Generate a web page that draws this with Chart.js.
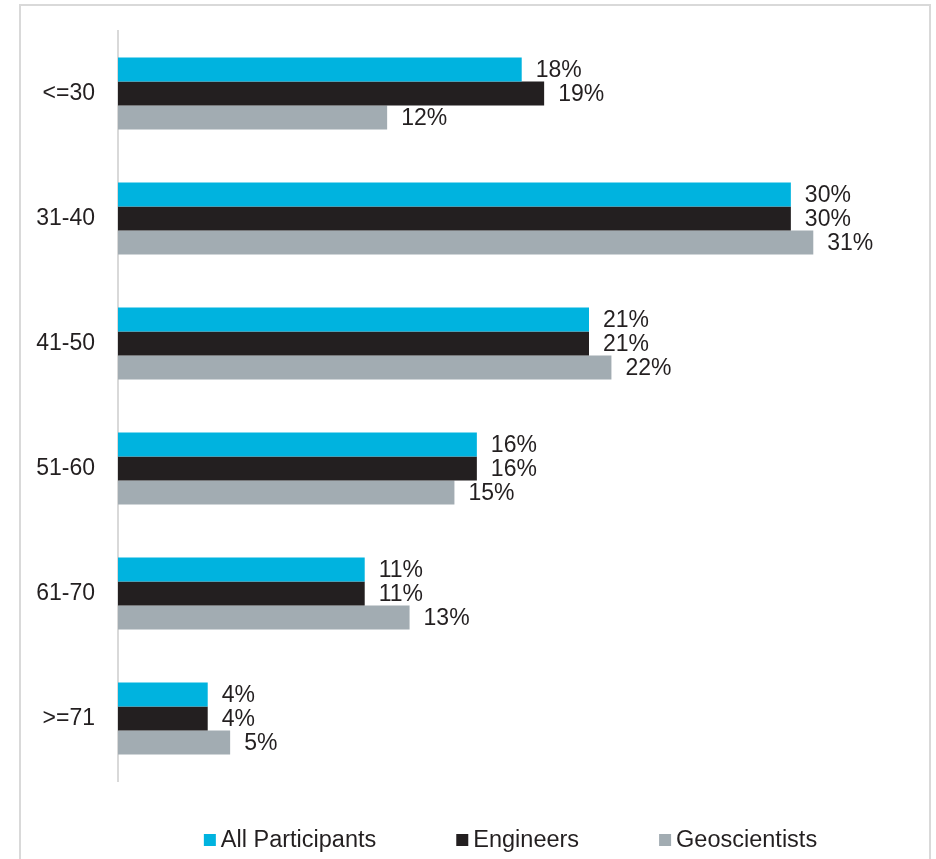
<!DOCTYPE html>
<html>
<head>
<meta charset="utf-8">
<script src="https://cdn.jsdelivr.net/npm/chart.js@4/dist/chart.umd.min.js"></script>
<style>
  html, body { margin: 0; padding: 0; background: #ffffff; }
  #wrap { width: 936px; height: 859px; position: relative; }
</style>
</head>
<body>
<div id="wrap"><canvas id="c" width="936" height="859"></canvas></div>
<script>
const categories = ["<=30", "31-40", "41-50", "51-60", "61-70", ">=71"];
const allParticipants = [18, 30, 21, 16, 11, 4];
const engineers = [19, 30, 21, 16, 11, 4];
const geoscientists = [12, 31, 22, 15, 13, 5];
const seriesNames = ["All Participants", "Engineers", "Geoscientists"];
const seriesColors = ["#00B3DF", "#231F20", "#A2ACB2"];

const FONT = "'Liberation Sans', Arial, sans-serif";

const frame = {
  id: 'frame',
  beforeDraw(chart) {
    const ctx = chart.ctx;
    ctx.save();
    ctx.strokeStyle = '#d9d9d9';
    ctx.lineWidth = 2;
    ctx.strokeRect(20, 5, 910, 900);
    ctx.restore();
  }
};

const valueLabels = {
  id: 'valueLabels',
  afterDatasetsDraw(chart) {
    const ctx = chart.ctx;
    ctx.save();
    ctx.font = "23px " + FONT;
    ctx.fillStyle = '#231F20';
    ctx.textBaseline = 'middle';
    ctx.textAlign = 'left';
    chart.data.datasets.forEach((ds, i) => {
      const meta = chart.getDatasetMeta(i);
      meta.data.forEach((bar, j) => {
        ctx.fillText(ds.data[j] + '%', bar.x + 14, bar.y + 1);
      });
    });
    ctx.restore();
  }
};

const customLegend = {
  id: 'customLegend',
  afterDraw(chart) {
    const ctx = chart.ctx;
    const area = chart.chartArea;
    ctx.save();
    ctx.font = "23.5px " + FONT;
    ctx.textBaseline = 'middle';
    ctx.textAlign = 'left';
    const box = 12, gapText = 5, gapItem = 80;
    const widths = chart.data.datasets.map(ds => box + gapText + ctx.measureText(ds.label).width);
    const total = widths.reduce((a, b) => a + b, 0) + gapItem * (widths.length - 1);
    let x = (area.left + area.right) / 2 - total / 2;
    const y = 840;
    chart.data.datasets.forEach((ds, i) => {
      ctx.fillStyle = ds.backgroundColor;
      ctx.fillRect(x, y - 6, box, box);
      ctx.fillStyle = '#231F20';
      ctx.fillText(ds.label, x + box + gapText, y + 1);
      x += widths[i] + gapItem;
    });
    ctx.restore();
  }
};

new Chart(document.getElementById('c'), {
  type: 'bar',
  data: {
    labels: categories,
    datasets: [
      { label: seriesNames[0], data: allParticipants, backgroundColor: seriesColors[0] },
      { label: seriesNames[1], data: engineers, backgroundColor: seriesColors[1] },
      { label: seriesNames[2], data: geoscientists, backgroundColor: seriesColors[2] }
    ]
  },
  options: {
    indexAxis: 'y',
    responsive: false,
    animation: false,
    devicePixelRatio: 1,
    layout: { padding: { left: 20, right: 33, top: 31, bottom: 78 } },
    datasets: { bar: { categoryPercentage: 0.576, barPercentage: 1.0, borderWidth: 0 } },
    plugins: {
      legend: { display: false },
      tooltip: { enabled: false },
      title: { display: false }
    },
    scales: {
      x: {
        display: false,
        min: 0,
        max: 35
      },
      y: {
        afterFit(s) { s.width = 98; s.paddingTop = 0; s.paddingBottom = 0; },
        grid: { display: false, drawTicks: false },
        border: { display: true, color: '#d9d9d9', width: 2 },
        ticks: { padding: 23, color: '#231F20', font: { family: FONT, size: 23 } }
      }
    }
  },
  plugins: [frame, valueLabels, customLegend]
});
</script>
</body>
</html>
